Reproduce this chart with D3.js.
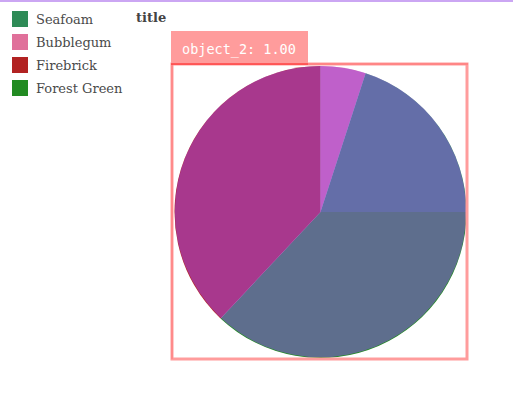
<!DOCTYPE html>
<html><head><meta charset="utf-8">
<script src="https://cdn.jsdelivr.net/npm/d3@7"></script>
<style>body{margin:0;background:#fff}svg{display:block}</style>
</head><body>
<script>
const legendNames = ["Seafoam", "Bubblegum", "Firebrick", "Forest Green"];
const legendColors = ["#2E8B57", "#E0709A", "#B22222", "#228B22"];
const sliceNames = ["Bubblegum", "Seafoam", "Forest Green", "Firebrick"];
const sliceValues = [5, 20, 37, 38];
const boxLabel = "object_2: 1.00";
const titleText = "title";

const W = 513, H = 400;
const svg = d3.select("body").append("svg").attr("width", W).attr("height", H);

svg.append("rect").attr("x", 0).attr("y", 0).attr("width", W).attr("height", 2).attr("fill", "#CBA6F3");

const color = d3.scaleOrdinal().domain(legendNames).range(legendColors);

// legend
const lg = svg.append("g");
legendNames.forEach((n, i) => {
  const g = lg.append("g").attr("transform", `translate(12,${11 + i * 23})`);
  g.append("rect").attr("width", 16).attr("height", 16).attr("fill", color(n));
  g.append("text").attr("x", 24).attr("y", 13).text(n)
    .attr("font-family", "DejaVu Serif").attr("font-size", 13).attr("fill", "#4a4a4a");
});

svg.append("text").attr("x", 136).attr("y", 22).text(titleText)
  .attr("font-family", "DejaVu Serif").attr("font-weight", "bold").attr("font-size", 13).attr("fill", "#444");

// pie
const cx = 320.5, cy = 212, r = 146;
const pie = d3.pie().sort(null).value(d => d.v);
const arcs = pie(sliceNames.map((n, i) => ({ n, v: sliceValues[i] })));
const arc = d3.arc().innerRadius(0).outerRadius(r);
const pg = svg.append("g").attr("transform", `translate(${cx},${cy})`);
pg.selectAll("path.s").data(arcs).join("path").attr("class", "s")
  .attr("d", arc).attr("fill", d => color(d.data.n));
// semi-transparent highlight mask over the object
pg.append("circle").attr("cy", -0.4).attr("r", r - 0.3).attr("fill", "rgb(158,79,253)").attr("fill-opacity", 0.49);

// bounding box
svg.append("rect").attr("x", 172).attr("y", 64).attr("width", 295).attr("height", 295)
  .attr("fill", "none").attr("stroke", "#FF9C9C").attr("stroke-width", 3);
svg.append("line").attr("x1", 171).attr("x2", 468).attr("y1", 64).attr("y2", 64)
  .attr("stroke", "#F55").attr("stroke-width", 1).attr("stroke-opacity", 0.6);
svg.append("line").attr("x1", 172).attr("x2", 172).attr("y1", 64).attr("y2", 359)
  .attr("stroke", "#F55").attr("stroke-width", 1).attr("stroke-opacity", 0.5);
svg.append("rect").attr("x", 171).attr("y", 31).attr("width", 137).attr("height", 33).attr("fill", "#FF9C9C");
svg.append("line").attr("x1", 171).attr("x2", 308).attr("y1", 64).attr("y2", 64).attr("stroke", "#F44").attr("stroke-width", 1.5);
svg.append("text").attr("x", 182).attr("y", 54).text(boxLabel)
  .attr("font-family", "DejaVu Sans Mono").attr("font-size", 13.5).attr("fill", "#fff");
</script>
</body></html>
